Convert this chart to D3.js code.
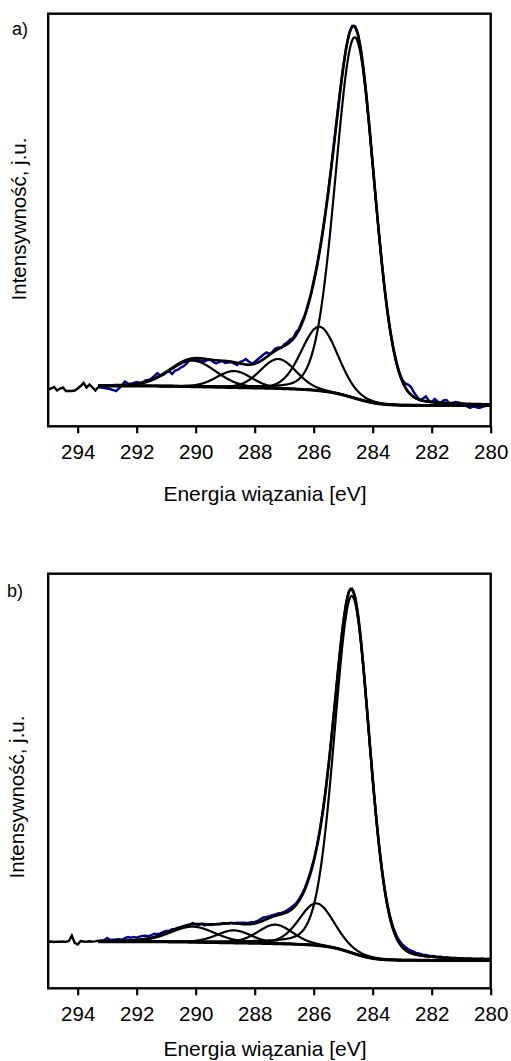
<!DOCTYPE html>
<html>
<head>
<meta charset="utf-8">
<script src="https://cdn.jsdelivr.net/npm/d3@7"></script>
<style>
  body { margin: 0; background: #fff; }
  svg { display: block; }
  text { font-family: "Liberation Sans", Arial, Helvetica, sans-serif; fill: #000; }
</style>
</head>
<body>
<div id="chart"></div>
<script>
// binding energy axis
var energyTicks = [294, 292, 290, 288, 286, 284, 282, 280];
var energyStart = 295.0, energyStep = 0.1;   // raw spectra: 295.0 -> 280.0 eV
var fitWindow = [293.3, 280.0];               // range of the peak fit

// a) fitted C1s components (centre eV, height, FWHM eV, lorentz share)
var centersA = [284.6, 285.8, 287.2, 288.7, 290.1];
var heightsA = [361, 64, 29.5, 16.5, 26];
var fwhmA    = [1.55, 1.45, 1.42, 1.4, 1.85];
var lorentzA = [0.1, 0.1, 0.1, 0.1, 0.1];
var shirleyA = [0, 19.5];   // background level at low / high BE end

// a) measured spectrum, one value per 0.1 eV starting at 295.0
var rawA = [
  16, 17, 18.5, 15, 17, 18, 14.5, 14.5, 14.5, 15,
  17, 19.5, 22.5, 18, 21, 18, 15, 18.5, 18, 17.5,
  17, 16.5, 15.5, 14.3, 17, 20, 24, 22, 21.5, 22.5,
  23.5, 22.5, 23, 25, 25.5, 27, 29.5, 32.3, 30, 30.5,
  33.5, 34.3, 31.5, 35, 35.8, 38, 39.5, 42, 45.5, 47,
  46, 45.5, 44.5, 44, 45.5, 45.5, 43.5, 42, 43.5, 44.5,
  42.5, 43, 43.5, 42, 40.5, 43.5, 44.5, 46.5, 44, 42,
  43.5, 46, 48.5, 51, 53, 51.5, 53.5, 57, 58, 57.5,
  61, 63, 66, 67.5, 73, 76.5, 84, 90.5, 101, 111,
  125, 138.5, 155.5, 173.5, 194, 216.5, 240.5, 266, 291, 316,
  339, 358, 372, 379.5, 379, 371, 355.5, 333, 305.5, 274.5,
  241, 208, 176, 146, 118.5, 94.5, 74.5, 57.5, 44.5, 33.5,
  26, 22, 21, 18.5, 13, 9, 5.5, 7, 9, 5,
  3.5, 6.5, 4, 2.5, 5, 5.5, 2.5, 2.5, 3.5, 3,
  2, 1.5, -1, -2.5, -1, -1.5, -2.5, -1.5, -0.5, 0,
  0.5
];

// b) fitted components
var centersB = [284.7, 285.9, 287.3, 288.7, 290.1];
var heightsB = [357, 42, 19, 12.5, 15.5];
var fwhmB    = [1.4, 1.4, 1.4, 1.4, 1.8];
var lorentzB = [0.15, 0.2, 0.2, 0.2, 0.2];
var shirleyB = [0, 18.8];

// b) measured spectrum
var rawB = [
  18.8, 19.0, 18.5, 18.9, 18.7, 19.0, 18.6, 19.5, 25.0, 17.5,
  16.0, 19.5, 19.0, 18.8, 19.2, 18.9, 19.1, 19.8, 19.5, 20.3,
  22.5, 20.5, 20.8, 21.0, 21.3, 20.7, 22.5, 23.5, 22.8, 23.6,
  22.8, 23.8, 24.6, 24.8, 24.2, 25.5, 26.8, 26.3, 27.2, 28.6,
  29.5, 29.8, 31.4, 31.6, 32.8, 33.2, 33.8, 34.8, 35.9, 37.5,
  36.2, 35.2, 36.8, 35.0, 35.9, 35.4, 35.9, 36.6, 36.2, 37.4,
  37.3, 37.0, 37.8, 37.4, 37.8, 37.6, 37.9, 37.6, 37.8, 38.4,
  38.6, 39.6, 41.4, 43.0, 43.5, 44.4, 45.4, 46.0, 47.0, 47.6,
  48.6, 50.2, 52.4, 54.5, 57.0, 61.2, 66.5, 72.5, 80.6, 89.6,
  100.5, 113.6, 129.5, 148, 170, 195, 223, 252.5, 283, 312,
  337.5, 357.5, 369.5, 371.5, 363.5, 345.8, 320.2, 288.7, 253.6, 217.5,
  182.2, 149.2, 119.8, 94.3, 73.0, 56.0, 42.8, 32.8, 25.5, 20.0,
  16.2, 13.5, 11.6, 9.8, 8.6, 7.2, 6.8, 5.9, 5.6, 4.8,
  4.6, 4.2, 3.4, 3.9, 2.6, 3.3, 2.4, 1.6, 2.5, 1.9,
  2.3, 1.2, 1.6, 1.8, 0.9, 1.5, 1.2, 1.9, 1.3, 1.6,
  1.4
];

var W = 511, H = 1061;
var svg = d3.select("#chart").append("svg").attr("width", W).attr("height", H);

var x = d3.scaleLinear().domain([295, 280]).range([48.2, 490.7]);

// Gaussian-Lorentzian sum line shape
function glPeak(e, c, h, w, m) {
  var d2 = (e - c) * (e - c) / (w * w);
  return h * ((1 - m) * Math.exp(-4 * Math.LN2 * d2) + m / (1 + 4 * d2));
}

function buildFit(p) {
  var step = 0.02;
  var n = Math.round((fitWindow[0] - fitWindow[1]) / step) + 1;
  var grid = d3.range(n).map(function(i) { return fitWindow[0] - i * step; });
  var comps = p.centers.map(function(c, k) {
    return grid.map(function(e) { return glPeak(e, c, p.heights[k], p.fwhm[k], p.lorentz[k]); });
  });
  var sum = grid.map(function(e, i) { return d3.sum(comps, function(cm) { return cm[i]; }); });
  // shirley type background: grows with peak area on the low BE side
  var cum = new Array(n);
  cum[n - 1] = 0;
  for (var i = n - 2; i >= 0; i--) cum[i] = cum[i + 1] + (sum[i] + sum[i + 1]) / 2;
  var bg = cum.map(function(a) { return p.shirley[0] + (p.shirley[1] - p.shirley[0]) * a / cum[0]; });
  return { grid: grid, comps: comps, sum: sum, bg: bg };
}

function drawPanel(p) {
  var g = svg.append("g");
  var y = d3.scaleLinear().domain([0, 100]).range([p.zeroY, p.zeroY - 100]);

  svg.append("clipPath").attr("id", "clip-" + p.id)
    .append("rect")
    .attr("x", x(295)).attr("y", p.top)
    .attr("width", x(280) - x(295)).attr("height", p.bottom - p.top);
  var plot = g.append("g").attr("clip-path", "url(#clip-" + p.id + ")");

  if (p.raw.length !== 151) console.warn("raw length", p.id, p.raw.length);
  var raw = p.raw.map(function(v, i) { return { e: energyStart - i * energyStep, v: v }; });
  var rawLine = d3.line().x(function(d) { return x(d.e); }).y(function(d) { return y(d.v); });

  // measured data inside the fit window (blue) and before it (black)
  plot.append("path")
    .datum(raw.filter(function(d) { return d.e <= fitWindow[0] + 1e-6; }))
    .attr("d", rawLine)
    .attr("fill", "none").attr("stroke", "#00008b").attr("stroke-width", 2.4);
  plot.append("path")
    .datum(raw.filter(function(d) { return d.e >= fitWindow[0] - 1e-6; }))
    .attr("d", rawLine)
    .attr("fill", "none").attr("stroke", "#000").attr("stroke-width", 2.4);

  var fit = buildFit(p);
  var fitLine = d3.line()
    .x(function(d, i) { return x(fit.grid[i]); })
    .y(function(d) { return y(d); })
    .curve(d3.curveMonotoneX);

  fit.comps.forEach(function(cm) {
    plot.append("path")
      .datum(cm.map(function(v, i) { return v + fit.bg[i]; }))
      .attr("d", fitLine)
      .attr("fill", "none").attr("stroke", "#000").attr("stroke-width", 2.2);
  });
  plot.append("path")
    .datum(fit.bg)
    .attr("d", fitLine)
    .attr("fill", "none").attr("stroke", "#000").attr("stroke-width", 3);
  plot.append("path")
    .datum(fit.sum.map(function(v, i) { return v + fit.bg[i]; }))
    .attr("d", fitLine)
    .attr("fill", "none").attr("stroke", "#000").attr("stroke-width", 2.6);

  // frame
  g.append("rect")
    .attr("x", x(295)).attr("y", p.top)
    .attr("width", x(280) - x(295)).attr("height", p.bottom - p.top)
    .attr("fill", "none").attr("stroke", "#000").attr("stroke-width", 2.4);

  var axis = d3.axisBottom(x).tickValues(energyTicks)
    .tickSize(7).tickPadding(p.tickPad).tickFormat(d3.format("d"));
  var ax = g.append("g").attr("transform", "translate(0," + p.bottom + ")").call(axis)
    .attr("font-size", 20.5).attr("font-family", "Liberation Sans, Arial, sans-serif");
  ax.select(".domain").remove();
  ax.selectAll(".tick line").attr("stroke", "#000").attr("stroke-width", 2.2);
  ax.selectAll(".tick text").attr("fill", "#000");

  g.append("text")
    .attr("x", 265).attr("y", p.titleY)
    .attr("text-anchor", "middle").attr("font-size", 21)
    .text("Energia wiązania [eV]");

  g.append("text")
    .attr("transform", "translate(" + p.labelX + "," + p.labelY + ") rotate(-90)")
    .attr("text-anchor", "middle").attr("font-size", 20.5)
    .text("Intensywność, j.u.");

  g.append("text")
    .attr("x", p.tagX).attr("y", p.tagY)
    .attr("font-size", 18)
    .text(p.tag);
}

drawPanel({
  id: "a", tag: "a)", tagX: 12, tagY: 35,
  top: 13.7, bottom: 426.3, zeroY: 405.5, tickPad: 11.5,
  titleY: 500.5, labelX: 26, labelY: 219,
  centers: centersA, heights: heightsA, fwhm: fwhmA, lorentz: lorentzA,
  shirley: shirleyA, raw: rawA
});

drawPanel({
  id: "b", tag: "b)", tagX: 7, tagY: 597,
  top: 573.7, bottom: 988.3, zeroY: 960.5, tickPad: 11.5,
  titleY: 1055.5, labelX: 24, labelY: 797,
  centers: centersB, heights: heightsB, fwhm: fwhmB, lorentz: lorentzB,
  shirley: shirleyB, raw: rawB
});
</script>
</body>
</html>
